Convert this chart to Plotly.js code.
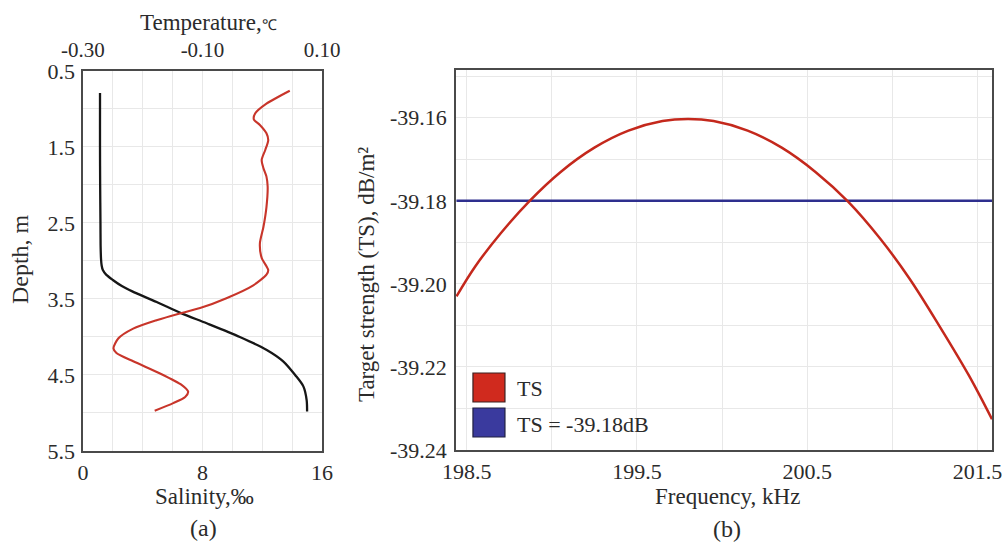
<!DOCTYPE html>
<html>
<head>
<meta charset="utf-8">
<script src="https://cdn.plot.ly/plotly-3.0.1.min.js"></script>
<style>html,body{margin:0;padding:0;background:#fff;}#chart{width:1007px;height:544px;}</style>
</head>
<body>
<div id="chart"></div>
<script>
// ---- Panel (a): depth profiles ----
const depthSalinity = [0.79, 1.0, 1.5, 2.0, 2.5, 2.8, 2.98, 3.06, 3.12, 3.18, 3.25, 3.33, 3.40, 3.54, 3.69, 3.82, 4.0, 4.17, 4.32, 4.5, 4.65, 4.83, 4.98];
const salinity = [1.14, 1.14, 1.14, 1.15, 1.17, 1.18, 1.21, 1.25, 1.33, 1.55, 2.0, 2.6, 3.3, 4.93, 6.6, 8.28, 10.5, 12.3, 13.4, 14.2, 14.75, 14.97, 15.0];

const depthTemperature = [0.76, 0.93, 1.06, 1.14, 1.21, 1.32, 1.41, 1.54, 1.67, 1.78, 1.89, 2.02, 2.29, 2.55, 2.77, 2.96, 3.07, 3.12, 3.18, 3.32, 3.49, 3.62, 3.69, 3.78, 3.89, 4.02, 4.15, 4.21, 4.32, 4.48, 4.63, 4.72, 4.79, 4.87, 4.97];
const temperature = [0.046, 0.007, -0.012, -0.014, -0.004, 0.007, 0.010, 0.005, -0.001, 0.002, 0.007, 0.009, 0.007, 0.002, -0.004, -0.001, 0.007, 0.010, 0.007, -0.015, -0.060, -0.104, -0.138, -0.177, -0.216, -0.241, -0.249, -0.244, -0.216, -0.171, -0.135, -0.124, -0.129, -0.149, -0.180];

const depthTicks = [0.5, 1.5, 2.5, 3.5, 4.5, 5.5];
const depthTickText = ['0.5', '1.5', '2.5', '3.5', '4.5', '5.5'];
const salinityTicks = [0, 8, 16];
const salinityTickText = ['0', '8', '16'];
const temperatureTicks = [-0.30, -0.10, 0.10];
const temperatureTickText = ['-0.30', '-0.10', '0.10'];

// ---- Panel (b): target strength vs frequency ----
const frequency = [198.44, 198.55, 198.70, 198.87, 199.05, 199.25, 199.45, 199.65, 199.80, 199.95, 200.15, 200.35, 200.55, 200.74, 200.93, 201.10, 201.28, 201.45, 201.585];
const targetStrength = [-39.2030, -39.1958, -39.1878, -39.1800, -39.1731, -39.1672, -39.1631, -39.1608, -39.1603, -39.1608, -39.1631, -39.1672, -39.1731, -39.1802, -39.1892, -39.1987, -39.2104, -39.2221, -39.2326];
const thresholdTS = -39.18;
const freqTicks = [198.5, 199.5, 200.5, 201.5];
const freqTickText = ['198.5', '199.5', '200.5', '201.5'];
const tsTicks = [-39.24, -39.22, -39.20, -39.18, -39.16];
const tsTickText = ['-39.24', '-39.22', '-39.20', '-39.18', '-39.16'];
const legendLabels = ['TS', 'TS = -39.18dB'];

const FONT = '"Liberation Serif", "Times New Roman", serif';
const TXT = '#2b2b2b';
const GRID = '#e8e8e8';
const LINE = '#4a4a4a';
const RED = '#c4281c';
const BLUE = '#2e2f8e';

const traces = [
  {x: salinity, y: depthSalinity, xaxis: 'x', yaxis: 'y', type: 'scatter', mode: 'lines',
   line: {color: '#161616', width: 2.3, shape: 'spline', smoothing: 0.8}, name: 'Salinity'},
  {x: temperature, y: depthTemperature, xaxis: 'x3', yaxis: 'y', type: 'scatter', mode: 'lines',
   line: {color: '#c8352a', width: 2.1, shape: 'spline', smoothing: 0.7}, name: 'Temperature'},
  {x: [frequency[0], frequency[frequency.length - 1]], y: [thresholdTS, thresholdTS], xaxis: 'x2', yaxis: 'y2',
   type: 'scatter', mode: 'lines', line: {color: BLUE, width: 2.6}, name: legendLabels[1]},
  {x: frequency, y: targetStrength, xaxis: 'x2', yaxis: 'y2', type: 'scatter', mode: 'lines',
   line: {color: RED, width: 2.5, shape: 'spline', smoothing: 1}, name: legendLabels[0]}
];

function tickfont(size) { return {family: FONT, size: size || 22, color: TXT}; }
function baseAxis(extra) {
  return Object.assign({showline: true, mirror: true, linecolor: LINE, linewidth: 1.7, ticks: '',
    showgrid: true, gridcolor: GRID, gridwidth: 1, zeroline: false, tickfont: tickfont(), fixedrange: true}, extra);
}

const layout = {
  width: 1007, height: 544,
  margin: {l: 0, r: 0, t: 0, b: 0},
  font: {family: FONT, color: TXT},
  paper_bgcolor: '#ffffff', plot_bgcolor: '#ffffff',
  showlegend: false,
  xaxis: baseAxis({domain: [0.0824, 0.3198], anchor: 'y', range: [0, 16],
    tickmode: 'array', tickvals: salinityTicks, ticktext: salinityTickText, ticklabelstandoff: 1,
    minor: {tickmode: 'linear', tick0: 0, dtick: 2, showgrid: true, gridcolor: GRID, ticks: ''}}),
  xaxis3: {overlaying: 'x', side: 'top', anchor: 'y', range: [-0.30, 0.10], showgrid: false, showline: false,
    zeroline: false, ticks: '', tickmode: 'array', tickvals: temperatureTicks, ticktext: temperatureTickText,
    tickfont: tickfont(21), fixedrange: true, ticklabelstandoff: 9},
  yaxis: baseAxis({domain: [0.171, 0.8695], anchor: 'x', range: [5.5, 0.5],
    tickmode: 'array', tickvals: depthTicks, ticktext: depthTickText, ticklabelstandoff: 2,
    minor: {tickmode: 'linear', tick0: 0.5, dtick: 0.5, showgrid: true, gridcolor: GRID, ticks: ''}}),
  xaxis2: baseAxis({domain: [0.4528, 0.9851], anchor: 'y2', range: [198.437, 201.585],
    tickmode: 'array', tickvals: freqTicks, ticktext: freqTickText, ticklabelstandoff: 1,
    minor: {tickmode: 'linear', tick0: 198.5, dtick: 0.5, showgrid: true, gridcolor: GRID, ticks: ''}}),
  yaxis2: baseAxis({domain: [0.1728, 0.8713], anchor: 'x2', range: [-39.24, -39.1485],
    tickmode: 'array', tickvals: tsTicks, ticktext: tsTickText, ticklabelstandoff: 3,
    minor: {tickmode: 'linear', tick0: -39.24, dtick: 0.01, showgrid: true, gridcolor: GRID, ticks: ''}}),
  shapes: [
    {type: 'rect', xref: 'x2 domain', yref: 'y2 domain', x0: 0.0317, x1: 0.0914, y0: 0.1263, y1: 0.2026,
     fillcolor: '#d02a1e', line: {color: '#3a2020', width: 1.2}},
    {type: 'rect', xref: 'x2 domain', yref: 'y2 domain', x0: 0.0317, x1: 0.0914, y0: 0.0342, y1: 0.1105,
     fillcolor: '#3a3a9e', line: {color: '#202040', width: 1.2}}
  ],
  annotations: [
    {text: legendLabels[0], xref: 'x2 domain', yref: 'y2 domain', x: 0.110, y: 0.163, xanchor: 'left', yanchor: 'middle',
     showarrow: false, font: {family: FONT, size: 22, color: TXT}},
    {text: legendLabels[1], xref: 'x2 domain', yref: 'y2 domain', x: 0.110, y: 0.068, xanchor: 'left', yanchor: 'middle',
     showarrow: false, font: {family: FONT, size: 22, color: TXT}},
    {text: 'Temperature,<span style="font-size:15px">℃</span>', xref: 'paper', yref: 'paper', x: 0.2066, y: 0.9580,
     xanchor: 'center', yanchor: 'middle', showarrow: false, font: {family: FONT, size: 23, color: TXT}},
    {text: 'Salinity,‰', xref: 'paper', yref: 'paper', x: 0.2026, y: 0.088,
     xanchor: 'center', yanchor: 'middle', showarrow: false, font: {family: FONT, size: 23, color: TXT}},
    {text: '(a)', xref: 'paper', yref: 'paper', x: 0.2016, y: 0.030,
     xanchor: 'center', yanchor: 'middle', showarrow: false, font: {family: FONT, size: 24, color: TXT}},
    {text: 'Depth, m', xref: 'paper', yref: 'paper', x: 0.0199, y: 0.5239, textangle: -90,
     xanchor: 'center', yanchor: 'middle', showarrow: false, font: {family: FONT, size: 24, color: TXT}},
    {text: 'Target strength (TS), dB/m²', xref: 'paper', yref: 'paper', x: 0.3645, y: 0.4945, textangle: -90,
     xanchor: 'center', yanchor: 'middle', showarrow: false, font: {family: FONT, size: 23, color: TXT}},
    {text: 'Frequency, kHz', xref: 'paper', yref: 'paper', x: 0.7224, y: 0.088,
     xanchor: 'center', yanchor: 'middle', showarrow: false, font: {family: FONT, size: 23, color: TXT}},
    {text: '(b)', xref: 'paper', yref: 'paper', x: 0.7219, y: 0.027,
     xanchor: 'center', yanchor: 'middle', showarrow: false, font: {family: FONT, size: 24, color: TXT}}
  ]
};

Plotly.newPlot('chart', traces, layout, {displayModeBar: false, staticPlot: true});
</script>
</body>
</html>
